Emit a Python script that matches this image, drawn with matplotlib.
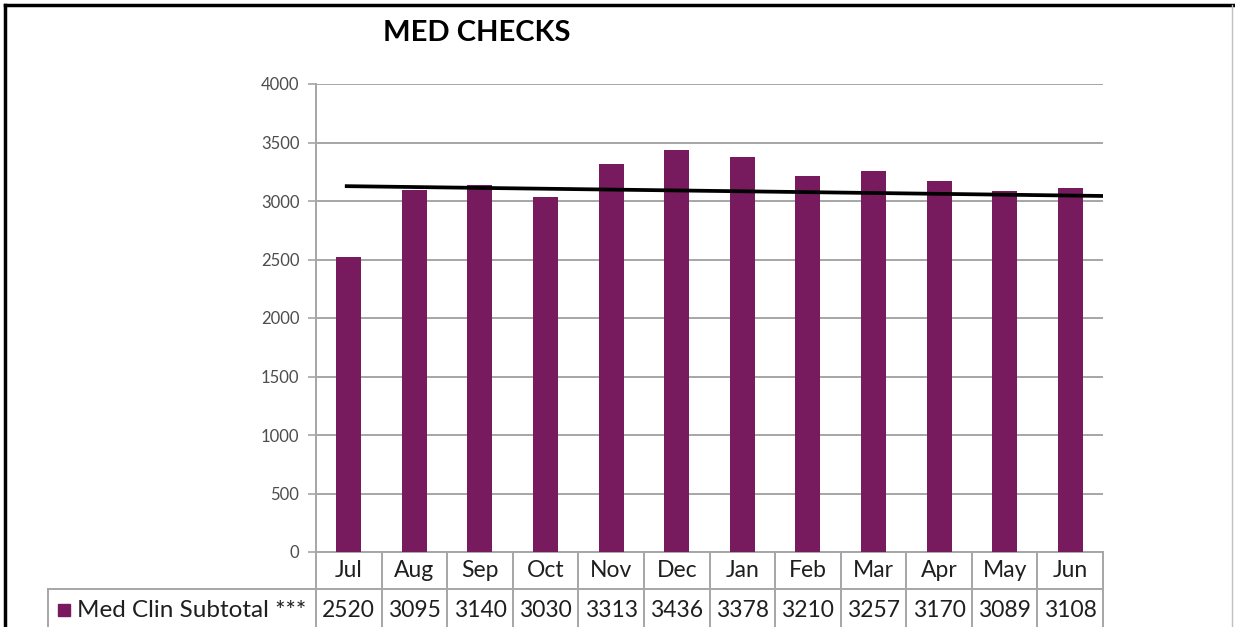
import matplotlib.pyplot as plt
import numpy as np
from matplotlib.lines import Line2D

months = ['Jul', 'Aug', 'Sep', 'Oct', 'Nov', 'Dec', 'Jan', 'Feb', 'Mar', 'Apr', 'May', 'Jun']
med_checks = [2520, 3095, 3140, 3030, 3313, 3436, 3378, 3210, 3257, 3170, 3089, 3108]
series_name = 'Med Clin Subtotal ***'
trend_x = [-0.06, 11.5]
trend_y = [3127, 3043]
y_ticks = [0, 500, 1000, 1500, 2000, 2500, 3000, 3500, 4000]

W, H = 1235, 627
BAR = '#771B5E'
GRID = '#A6A6A6'
TXT = '#1f1f1f'

fig = plt.figure(figsize=(W / 100, H / 100), dpi=100)
fig.patch.set_facecolor('white')

# plot area in pixels
x0, x1, ytop, ybot = 316, 1103, 84, 552
ax = fig.add_axes([x0 / W, 1 - ybot / H, (x1 - x0) / W, (ybot - ytop) / H])

x = np.arange(len(months))
ax.bar(x, med_checks, width=0.38, color=BAR, zorder=3)
ax.plot(trend_x, trend_y, color='black', lw=2.7, zorder=4, solid_capstyle='butt')

ax.set_xlim(-0.5, len(months) - 0.5)
ax.set_ylim(0, 4000)
ax.set_yticks(y_ticks)
ax.set_yticklabels([str(v) for v in y_ticks], fontfamily='Lato', fontsize=12, color='#4d4d4d')
ax.set_xticks([])
ax.tick_params(axis='y', length=6, width=1.2, color=GRID, pad=6)
ax.grid(axis='y', color=GRID, lw=1.4, zorder=0)
for s in ['top', 'right']:
    ax.spines[s].set_visible(False)
for s in ['left', 'bottom']:
    ax.spines[s].set_color(GRID)
    ax.spines[s].set_linewidth(1.4)

# data table under the plot, drawn in axes coordinates
axw, axh = x1 - x0, ybot - ytop
row1 = -(589 - ybot) / axh
row2 = -(627 - ybot) / axh
left = -(x0 - 48) / axw
tkw = dict(transform=ax.transAxes, color=GRID, lw=1.4, clip_on=False)
ax.plot([left, 1], [row1, row1], **tkw)
ax.plot([left, left], [row1, row2], **tkw)
for i in range(len(months) + 1):
    xa = i / len(months)
    ax.plot([xa, xa], [0, row2], **tkw)

tfont = dict(fontfamily='Lato', fontsize=16.5, color=TXT, ha='center', va='center', clip_on=False)
for i, (m, v) in enumerate(zip(months, med_checks)):
    xa = (i + 0.5) / len(months)
    ax.text(xa, row1 / 2, m, transform=ax.transAxes, **tfont)
    ax.text(xa, (row1 + row2) / 2 - 0.005, str(v), transform=ax.transAxes, **tfont)

ax.plot([-(x0 - 64) / axw], [(row1 + row2) / 2 - 0.005], marker='s', ms=9, color=BAR,
        transform=ax.transAxes, clip_on=False, lw=0)
ax.text(-(x0 - 77) / axw, (row1 + row2) / 2 - 0.005, series_name, transform=ax.transAxes,
        fontfamily='Lato', fontsize=17.5, color=TXT, ha='left', va='center')

fig.text(477 / W, 1 - 33 / H, 'MED CHECKS', fontfamily='Lato', fontweight='bold',
         fontsize=21, ha='center', va='center', color='black')

# frame of the screenshot
fig.add_artist(Line2D([5 / W, 1], [1 - 5 / H, 1 - 5 / H], color='black', lw=2.5))
fig.add_artist(Line2D([5 / W, 5 / W], [0, 1 - 5 / H], color='black', lw=2.5))
fig.add_artist(Line2D([1232 / W, 1232 / W], [0, 1 - 5 / H], color='#BFBFBF', lw=1))

fig.savefig('out.png', dpi=100, facecolor='white')
